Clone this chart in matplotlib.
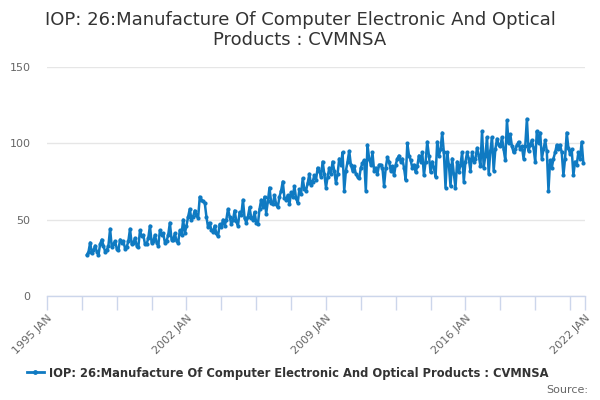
import numpy as np
import matplotlib
matplotlib.use("Agg")
import matplotlib.pyplot as plt
from matplotlib.lines import Line2D

TITLE = "IOP: 26:Manufacture Of Computer Electronic And Optical\nProducts : CVMNSA"
SERIES_NAME = "IOP: 26:Manufacture Of Computer Electronic And Optical Products : CVMNSA"

start_year = 1997
# monthly values, Jan..Dec
v1997 = [27, 29, 35, 28, 30, 33, 29, 27, 34, 37, 33, 29]
v1998 = [30, 33, 44, 32, 34, 36, 31, 30, 37, 35, 36, 31]
v1999 = [32, 36, 44, 34, 35, 38, 33, 32, 43, 39, 40, 34]
v2000 = [34, 38, 46, 35, 36, 40, 35, 33, 43, 40, 41, 35]
v2001 = [36, 40, 48, 37, 37, 41, 36, 35, 43, 40, 50, 41]
v2002 = [46, 52, 57, 50, 52, 56, 53, 51, 65, 63, 62, 61]
v2003 = [52, 45, 48, 43, 42, 46, 41, 39, 47, 45, 50, 46]
v2004 = [50, 57, 52, 47, 50, 56, 49, 46, 55, 53, 63, 51]
v2005 = [48, 52, 58, 51, 50, 55, 48, 47, 57, 63, 58, 65]
v2006 = [54, 62, 71, 61, 60, 66, 60, 58, 65, 69, 75, 64]
v2007 = [63, 66, 60, 68, 65, 72, 64, 61, 70, 67, 77, 70]
v2008 = [69, 74, 80, 73, 75, 79, 76, 84, 82, 78, 88, 80]
v2009 = [71, 78, 84, 80, 88, 82, 74, 80, 90, 86, 94, 69]
v2010 = [82, 88, 95, 86, 82, 85, 80, 78, 77, 84, 87, 89]
v2011 = [69, 99, 90, 86, 94, 82, 84, 80, 86, 86, 84, 72]
v2012 = [84, 91, 88, 82, 85, 79, 86, 90, 92, 88, 90, 84]
v2013 = [76, 100, 92, 89, 84, 86, 81, 85, 92, 88, 94, 79]
v2014 = [88, 101, 92, 81, 88, 84, 78, 101, 92, 96, 107, 94]
v2015 = [71, 94, 86, 72, 90, 80, 71, 88, 81, 86, 94, 75]
v2016 = [88, 94, 90, 82, 94, 88, 90, 97, 92, 85, 108, 84]
v2017 = [92, 104, 80, 95, 104, 82, 96, 103, 99, 98, 104, 96]
v2018 = [89, 115, 100, 106, 98, 94, 96, 99, 101, 96, 98, 90]
v2019 = [98, 116, 95, 99, 102, 97, 88, 108, 100, 107, 90, 96]
v2020 = [102, 95, 69, 89, 84, 90, 94, 99, 96, 99, 94, 79]
v2021 = [90, 107, 97, 93, 96, 79, 88, 86, 94, 90, 101, 87]

yearly = [v1997, v1998, v1999, v2000, v2001, v2002, v2003, v2004, v2005,
          v2006, v2007, v2008, v2009, v2010, v2011, v2012, v2013, v2014,
          v2015, v2016, v2017, v2018, v2019, v2020, v2021]
values = [v for year in yearly for v in year]
dates = [start_year + i / 12 for i in range(len(values))]

tick_years = [1995 + 1.75 * k for k in range(16)] + [2022]
label_years = {1995: "1995 JAN", 2002: "2002 JAN", 2009: "2009 JAN",
               2016: "2016 JAN", 2022: "2022 JAN"}

line_color = "#0f7ac2"
grid_color = "#e6e6e6"
axis_color = "#ccd6eb"
text_color = "#333333"
label_color = "#666666"

plt.rcParams["font.family"] = ["DejaVu Sans"]

fig = plt.figure(figsize=(6, 4), dpi=100)
ax = fig.add_axes([47 / 600, 1 - 296 / 400, (585 - 47) / 600, (296 - 67) / 400])

ax.plot(dates, values, color=line_color, linewidth=1.8, marker="o",
        markersize=3, markeredgewidth=0, clip_on=False)

ax.set_xlim(1995, 2022)
ax.set_ylim(0, 150)
ax.set_yticks([0, 50, 100, 150])
ax.yaxis.grid(True, color=grid_color, linewidth=1)
ax.set_axisbelow(True)
ax.tick_params(axis="y", length=0, labelsize=8, labelcolor=label_color, pad=12)

ax.set_xticks(tick_years)
ax.set_xticklabels([label_years.get(int(t), "") if float(t).is_integer() else ""
                    for t in tick_years])
ax.tick_params(axis="x", length=10, width=1, color=axis_color,
               labelsize=8, labelcolor=label_color, pad=2)
for lbl in ax.get_xticklabels():
    lbl.set_rotation(45)
    lbl.set_ha("right")
    lbl.set_rotation_mode("anchor")

for side in ["top", "right", "left"]:
    ax.spines[side].set_visible(False)
ax.spines["bottom"].set_color(axis_color)
ax.spines["bottom"].set_linewidth(1)

fig.text(0.5, 1 - 30 / 400, TITLE, ha="center", va="center", fontsize=13,
         color=text_color, linespacing=1.15)

# legend
legend_handle = Line2D([0], [0], color=line_color, linewidth=2, marker="o",
                       markersize=3.5, markeredgewidth=0)
fig.legend([legend_handle], [SERIES_NAME], loc="center",
           bbox_to_anchor=(0.479, 1 - 373 / 400), frameon=False,
           prop={"size": 8.3, "weight": "bold"}, handlelength=1.5,
           handletextpad=0.4, labelcolor=text_color)

fig.text(588 / 600, 1 - 390 / 400, "Source:", ha="right", va="center",
         fontsize=8, color=label_color)

fig.savefig("out.png", dpi=100)
